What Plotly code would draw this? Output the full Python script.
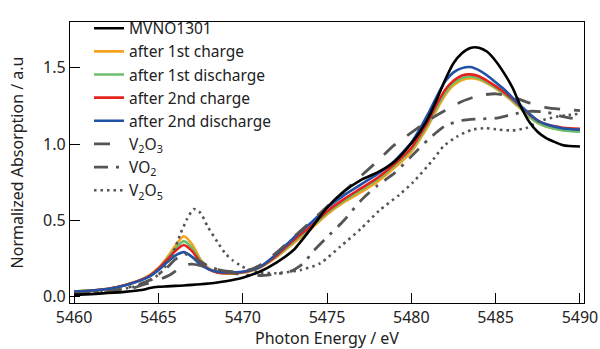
import plotly.graph_objects as go

# ---- data ----
energy = [5460, 5461, 5462, 5463, 5464, 5464.5, 5465, 5465.5, 5466, 5466.5, 5467, 5467.5,
          5468, 5468.5, 5469, 5470, 5471, 5472, 5473, 5474, 5475, 5476, 5477, 5478, 5479,
          5480, 5480.5, 5481, 5481.5, 5482, 5482.5, 5483, 5483.5, 5484, 5484.5, 5485,
          5485.5, 5486, 5486.5, 5487, 5487.5, 5488, 5489, 5490]

mvno1301 = [0.013, 0.018, 0.025, 0.033, 0.045, 0.058, 0.066, 0.069, 0.072, 0.075, 0.079, 0.083,
            0.088, 0.094, 0.102, 0.125, 0.165, 0.225, 0.305, 0.44, 0.585, 0.69, 0.765, 0.815,
            0.885, 1.005, 1.08, 1.17, 1.29, 1.42, 1.53, 1.595, 1.63, 1.632, 1.605, 1.545,
            1.465, 1.37, 1.245, 1.145, 1.08, 1.04, 0.993, 0.985]

after_1st_charge = [0.035, 0.041, 0.052, 0.077, 0.115, 0.145, 0.19, 0.255, 0.335, 0.397, 0.345, 0.245,
                    0.185, 0.16, 0.153, 0.158, 0.19, 0.26, 0.35, 0.44, 0.54, 0.62, 0.685, 0.755,
                    0.845, 0.95, 1.03, 1.12, 1.225, 1.32, 1.385, 1.42, 1.432, 1.423, 1.398, 1.365,
                    1.325, 1.28, 1.23, 1.18, 1.14, 1.115, 1.095, 1.09]

after_1st_discharge = [0.035, 0.041, 0.052, 0.076, 0.112, 0.14, 0.186, 0.245, 0.315, 0.365, 0.32, 0.235,
                       0.18, 0.16, 0.155, 0.16, 0.193, 0.265, 0.36, 0.45, 0.55, 0.63, 0.70, 0.77,
                       0.86, 0.965, 1.045, 1.135, 1.24, 1.335, 1.40, 1.433, 1.443, 1.432, 1.405, 1.37,
                       1.33, 1.285, 1.235, 1.18, 1.14, 1.115, 1.09, 1.082]

after_2nd_charge = [0.035, 0.042, 0.053, 0.077, 0.113, 0.14, 0.185, 0.24, 0.30, 0.34, 0.30, 0.225,
                    0.18, 0.16, 0.155, 0.162, 0.195, 0.27, 0.37, 0.46, 0.56, 0.64, 0.71, 0.78,
                    0.87, 0.975, 1.06, 1.15, 1.26, 1.355, 1.415, 1.45, 1.457, 1.445, 1.415, 1.38,
                    1.34, 1.295, 1.245, 1.195, 1.155, 1.13, 1.108, 1.10]

after_2nd_discharge = [0.035, 0.042, 0.052, 0.075, 0.11, 0.135, 0.175, 0.225, 0.27, 0.293, 0.262, 0.21,
                       0.18, 0.165, 0.16, 0.165, 0.195, 0.28, 0.385, 0.48, 0.583, 0.665, 0.735, 0.805,
                       0.89, 1.01, 1.10, 1.20, 1.31, 1.41, 1.47, 1.498, 1.505, 1.485, 1.45, 1.405,
                       1.36, 1.305, 1.25, 1.20, 1.155, 1.13, 1.103, 1.095]

energy_v2o3 = [5460, 5462, 5463.3, 5464.1, 5465, 5465.7, 5466.5, 5467, 5467.5, 5468, 5469, 5470,
               5471, 5472, 5473, 5474, 5475, 5476, 5477, 5478, 5479, 5480, 5481, 5482, 5483,
               5484, 5485, 5486, 5487, 5488, 5489, 5490]
v2o3 = [0.02, 0.03, 0.05, 0.08, 0.11, 0.145, 0.205, 0.215, 0.205, 0.19, 0.168, 0.165,
        0.205, 0.29, 0.39, 0.49, 0.59, 0.69, 0.79, 0.89, 0.995, 1.075, 1.155, 1.22, 1.28,
        1.318, 1.33, 1.31, 1.27, 1.24, 1.228, 1.22]

energy_vo2 = [5460, 5462, 5463.5, 5464.5, 5465.5, 5466, 5466.6, 5467.2, 5468, 5468.8, 5470, 5471,
              5472, 5472.8, 5473.6, 5474.2, 5475, 5476, 5477, 5478, 5479, 5480, 5481, 5482,
              5483, 5484, 5485, 5486, 5487, 5488, 5489, 5490]
vo2 = [0.02, 0.035, 0.07, 0.11, 0.19, 0.245, 0.28, 0.25, 0.2, 0.17, 0.145, 0.14,
       0.15, 0.165, 0.22, 0.3, 0.39, 0.5, 0.63, 0.73, 0.81, 0.92, 1.03, 1.12,
       1.155, 1.165, 1.17, 1.195, 1.215, 1.21, 1.18, 1.16]

energy_v2o5 = [5460, 5462, 5463.5, 5464.5, 5465.2, 5465.8, 5466.3, 5466.7, 5467.1, 5467.5, 5467.9,
               5468.5, 5469, 5469.4, 5469.8, 5470.3, 5471, 5472, 5473.4, 5474.6, 5475.8, 5477,
               5478.1, 5479.3, 5480.1, 5481.3, 5481.9, 5482.7, 5483.6, 5484.4, 5485.2, 5486,
               5486.8, 5487.6, 5488.6, 5489.3, 5490]
v2o5 = [0.02, 0.035, 0.065, 0.105, 0.165, 0.27, 0.41, 0.51, 0.575, 0.55, 0.465,
        0.36, 0.28, 0.24, 0.21, 0.18, 0.16, 0.155, 0.175, 0.22, 0.33, 0.445,
        0.565, 0.67, 0.75, 0.9, 0.985, 1.05, 1.095, 1.105, 1.095, 1.09,
        1.105, 1.15, 1.18, 1.19, 1.2]

x_ticks = [5460, 5465, 5470, 5475, 5480, 5485, 5490]
y_ticks = [0.0, 0.5, 1.0, 1.5]

GRAY = "#555555"
FONT = "Noto Sans"
TXT = "#222222"

# (name, x, y, color, dash, width, legend rank); drawing order = list order
series = [
    ("after 1st charge", energy, after_1st_charge, "#F7A21B", "solid", 2.6, 2),
    ("after 1st discharge", energy, after_1st_discharge, "#6CBF6C", "solid", 2.6, 3),
    ("after 2nd charge", energy, after_2nd_charge, "#E5221C", "solid", 2.6, 4),
    ("after 2nd discharge", energy, after_2nd_discharge, "#2251A8", "solid", 2.6, 5),
    ("V<sub>2</sub>O<sub>3</sub>", energy_v2o3, v2o3, GRAY, "16px,14px", 2.8, 6),
    ("VO<sub>2</sub>", energy_vo2, vo2, GRAY, "14px,8px,3px,8px", 2.8, 7),
    ("V<sub>2</sub>O<sub>5</sub>", energy_v2o5, v2o5, GRAY, "2.5px,4px", 2.6, 8),
    ("MVNO1301", energy, mvno1301, "#000000", "solid", 2.6, 1),
]

fig = go.Figure()
for name, xs, ys, color, dash, width, rank in series:
    fig.add_trace(go.Scatter(
        x=xs, y=ys, mode="lines", name=name,
        line=dict(color=color, dash=dash, width=width, shape="spline", smoothing=0.6),
        legendrank=rank, legendgroup=name,
    ))

axis_common = dict(
    showline=True, linecolor="black", linewidth=1.2, mirror=True,
    ticks="inside", ticklen=10, tickwidth=1, tickcolor="black",
    showgrid=False, zeroline=False, automargin=False,
    tickfont=dict(family=FONT, size=16, color=TXT),
)

fig.update_layout(
    width=600, height=349,
    margin=dict(l=70, r=16, t=14, b=46),
    paper_bgcolor="white", plot_bgcolor="white",
    font=dict(family=FONT, size=16, color=TXT),
    showlegend=True,
    legend=dict(
        x=0.037, y=1.037, xanchor="left", yanchor="top",
        bgcolor="rgba(0,0,0,0)", borderwidth=0,
        font=dict(family=FONT, size=15.5, color=TXT),
        traceorder="grouped", tracegroupgap=0, maxheight=340,
    ),
    xaxis=dict(
        range=[5459.76, 5490.24], tickvals=x_ticks,
        title=dict(text="Photon Energy / eV", standoff=12,
                   font=dict(family=FONT, size=16, color=TXT)),
        **axis_common,
    ),
    yaxis=dict(
        range=[-0.04, 1.80], tickvals=y_ticks, tickformat=".1f",
        title=dict(text="Normalized Absorption / a.u", standoff=15,
                   font=dict(family=FONT, size=16, color=TXT)),
        **axis_common,
    ),
)

# remove the default 8px page margin so the 600x349 figure fills the window exactly
fig.write_html("out.html",
               config={"displayModeBar": False},
               post_script="document.body.style.margin='0';document.body.style.overflow='hidden';")
